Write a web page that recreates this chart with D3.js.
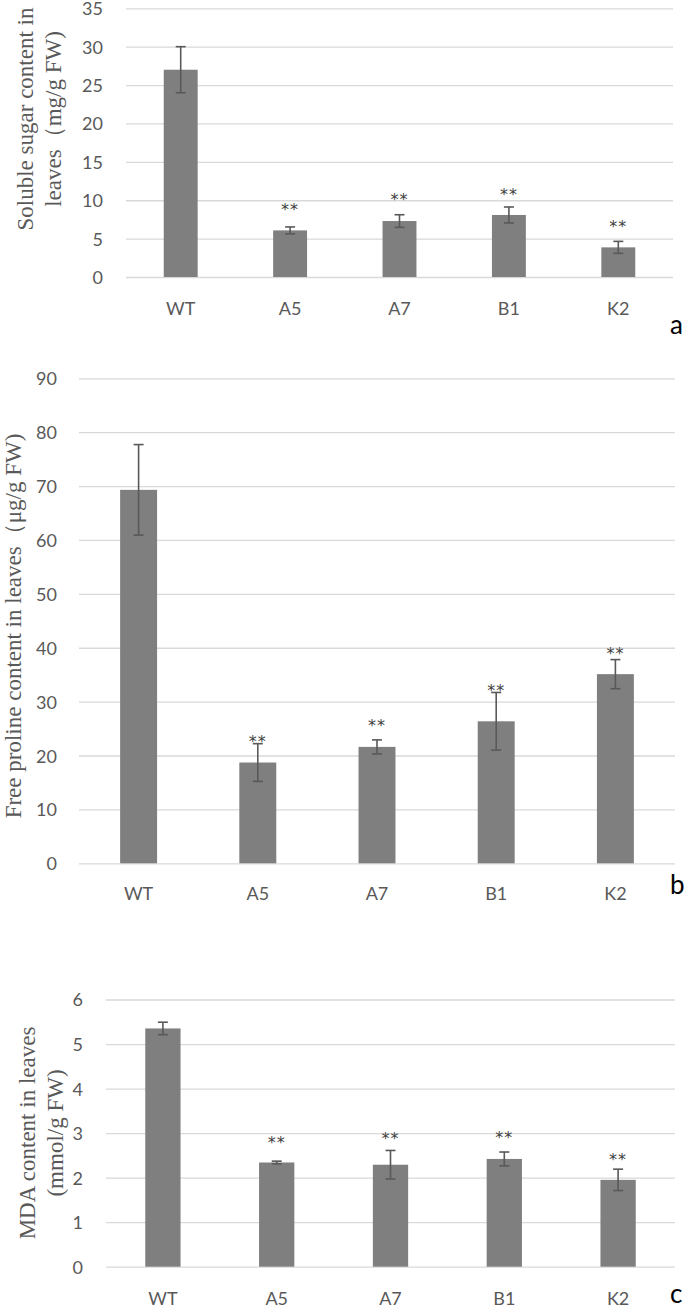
<!DOCTYPE html>
<html>
<head>
<meta charset="utf-8">
<script src="https://cdn.jsdelivr.net/npm/d3@7"></script>
<style>
  html, body { margin: 0; padding: 0; background: #fff; }
  svg { display: block; }
</style>
</head>
<body>
<svg id="chart" width="685" height="1308"></svg>
<script>
// ---- Data ----
const categories = ["WT", "A5", "A7", "B1", "K2"];

const sugarValues = [27.0, 6.07, 7.29, 8.08, 3.86];
const sugarErrors = [3.0, 0.45, 0.82, 1.04, 0.78];
const sugarStars  = [null, 9.4, 10.7, 11.3, 7.2];
const sugarTicks  = [0, 5, 10, 15, 20, 25, 30, 35];

const prolineValues = [69.3, 18.7, 21.6, 26.35, 35.1];
const prolineErrors = [8.4, 3.5, 1.3, 5.35, 2.7];
const prolineStars  = [null, 23.4, 26.3, 32.9, 39.8];
const prolineTicks  = [0, 10, 20, 30, 40, 50, 60, 70, 80, 90];

const mdaValues = [5.35, 2.34, 2.29, 2.42, 1.95];
const mdaErrors = [0.14, 0.03, 0.32, 0.155, 0.24];
const mdaStars  = [null, 2.89, 2.98, 2.99, 2.5];
const mdaTicks  = [0, 1, 2, 3, 4, 5, 6];

const sugarTitle   = ["Soluble sugar content in", "leaves\uFF08mg/g FW)"];
const prolineTitle = ["Free proline content in leaves\uFF08\u03BCg/g FW)"];
const mdaTitle     = ["MDA content in leaves", "(mmol/g FW)"];
const panelLetters = ["a", "b", "c"];

// ---- Layout (not data) ----
const panels = [
  { values: sugarValues, errors: sugarErrors, stars: sugarStars, ticks: sugarTicks, title: sugarTitle, letter: panelLetters[0],
    x0: 126, x1: 673, yTop: 8.3, yBot: 277, max: 35, tickRight: 103, xLabelY: 315,
    titleX: [25, 53], titleY: 119, letterY: 334 },
  { values: prolineValues, errors: prolineErrors, stars: prolineStars, ticks: prolineTicks, title: prolineTitle, letter: panelLetters[1],
    x0: 79, x1: 675, yTop: 378.3, yBot: 863.3, max: 90, tickRight: 57, xLabelY: 900,
    titleX: [13], titleY: 626, letterY: 894 },
  { values: mdaValues, errors: mdaErrors, stars: mdaStars, ticks: mdaTicks, title: mdaTitle, letter: panelLetters[2],
    x0: 106, x1: 675, yTop: 999.5, yBot: 1266.7, max: 6, tickRight: 83, xLabelY: 1305,
    titleX: [27, 55], titleY: 1133, letterY: 1303 }
];

const svg = d3.select("#chart");
const sans = "Lato, 'Open Sans', 'Noto Sans', sans-serif";
const serif = "'Liberation Serif', 'DejaVu Serif', serif";
const fmt = d3.format("d");

panels.forEach(p => {
  const g = svg.append("g");
  const x = d3.scaleBand().domain(categories).range([p.x0, p.x1])
              .paddingInner(0.69).paddingOuter(0.345);
  const y = d3.scaleLinear().domain([0, p.max]).range([p.yBot, p.yTop]);

  // gridlines via axis
  const grid = g.append("g").attr("transform", `translate(${p.x0},0)`)
    .call(d3.axisLeft(y).tickValues(p.ticks).tickSize(-(p.x1 - p.x0)).tickFormat(""));
  grid.select(".domain").remove();
  grid.selectAll(".tick line").attr("stroke", "#d9d9d9").attr("stroke-width", 1.3);

  // tick labels
  const yl = g.append("g").attr("transform", `translate(${p.tickRight},0)`)
    .call(d3.axisLeft(y).tickValues(p.ticks).tickFormat(fmt).tickSize(0).tickPadding(0));
  yl.select(".domain").remove();
  yl.selectAll(".tick text").attr("font-family", sans).attr("font-size", 18)
    .attr("fill", "#595959").attr("dy", "0.36em").attr("text-anchor", "end");

  // x labels
  const xl = g.append("g").attr("transform", `translate(0,${p.xLabelY})`)
    .call(d3.axisBottom(x).tickSize(0).tickPadding(0));
  xl.select(".domain").remove();
  xl.selectAll(".tick text").attr("font-family", sans).attr("font-size", 18)
    .attr("fill", "#595959").attr("dy", 0).attr("y", 0);

  const rows = categories.map((c, i) => ({ c, v: p.values[i], e: p.errors[i], s: p.stars[i] }));

  // bars
  g.selectAll("rect.bar").data(rows).join("rect").attr("class", "bar")
    .attr("x", d => x(d.c)).attr("width", x.bandwidth())
    .attr("y", d => y(d.v)).attr("height", d => y(0) - y(d.v))
    .attr("fill", "#7f7f7f");

  // error bars
  const cap = 5;
  const eb = g.selectAll("g.err").data(rows).join("g").attr("class", "err")
    .attr("stroke", "#595959").attr("stroke-width", 1.6);
  eb.append("line")
    .attr("x1", d => x(d.c) + x.bandwidth() / 2).attr("x2", d => x(d.c) + x.bandwidth() / 2)
    .attr("y1", d => y(d.v + d.e)).attr("y2", d => y(d.v - d.e));
  eb.append("line")
    .attr("x1", d => x(d.c) + x.bandwidth() / 2 - cap).attr("x2", d => x(d.c) + x.bandwidth() / 2 + cap)
    .attr("y1", d => y(d.v + d.e)).attr("y2", d => y(d.v + d.e));
  eb.append("line")
    .attr("x1", d => x(d.c) + x.bandwidth() / 2 - cap).attr("x2", d => x(d.c) + x.bandwidth() / 2 + cap)
    .attr("y1", d => y(d.v - d.e)).attr("y2", d => y(d.v - d.e));

  // significance stars
  g.selectAll("text.star").data(rows.filter(d => d.s != null)).join("text").attr("class", "star")
    .attr("x", d => x(d.c) + x.bandwidth() / 2).attr("y", d => y(d.s))
    .attr("dy", "0.62em").attr("text-anchor", "middle")
    .attr("font-family", "'DejaVu Sans', sans-serif").attr("font-size", 16).attr("letter-spacing", 1)
    .attr("fill", "#404040").text("**");

  // y title
  const t = g.append("text")
    .attr("transform", `translate(0,${p.titleY}) rotate(-90)`)
    .attr("text-anchor", "middle").attr("font-family", serif).attr("font-size", 23).attr("fill", "#595959");
  p.title.forEach((line, i) => {
    t.append("tspan").attr("x", 0).attr("y", p.titleX[i]).attr("dy", "0.35em").text(line);
  });

  // panel letter
  g.append("text").attr("x", 670).attr("y", p.letterY)
    .attr("font-family", sans).attr("font-size", 26).attr("fill", "#000").text(p.letter);
});
</script>
</body>
</html>
